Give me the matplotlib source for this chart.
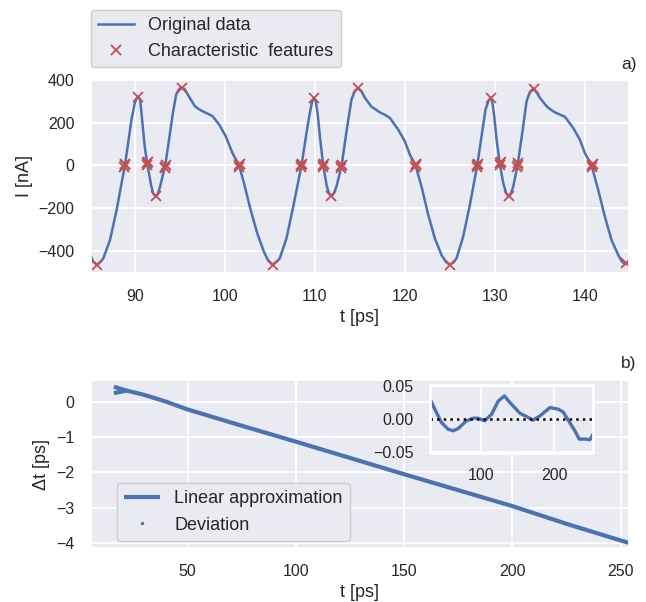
import matplotlib
matplotlib.use("Agg")
import matplotlib.pyplot as plt
from matplotlib.lines import Line2D

# ---------------- data ----------------
# panel a) original waveform
t_orig = [85.1, 85.4, 85.8, 86.2, 86.5, 87.24, 87.98, 88.53, 88.9, 89.26, 89.63, 90.0, 90.2, 90.4,
          90.6, 90.74, 91.1, 91.4, 91.84, 92.05, 92.32, 92.55, 92.76, 93.38, 93.86, 94.23, 94.6,
          94.95, 95.26, 95.55, 95.88, 96.62, 97.0, 97.54, 98.09, 98.64, 99.38, 100.1, 100.85,
          101.58, 102.13, 102.87, 103.6, 104.34, 104.8, 105.3, 105.75, 106.1,
          106.85, 107.6, 108.52, 109.07, 109.44, 109.7, 109.93, 110.1, 110.3, 110.56, 110.93, 111.3,
          111.55, 111.85, 112.1, 112.4, 112.96, 113.52, 114.07, 114.45, 114.81, 115.15, 115.56,
          116.3, 116.8, 117.22, 117.8, 118.33, 119.26, 120.0, 120.56, 121.19, 121.85, 122.6,
          123.33, 124.07, 124.55, 125.0, 125.4, 125.74,
          126.48, 127.22, 128.04, 128.52, 128.96, 129.3, 129.56, 129.75, 129.93, 130.19, 130.56,
          130.93, 131.25, 131.56, 131.8, 132.04, 132.52, 133.04, 133.52, 133.9, 134.26, 134.6,
          135.0, 135.74, 136.2, 136.67, 137.2, 137.78, 138.7, 139.44, 140.0, 140.74, 141.48,
          142.22, 142.96, 143.7, 144.1, 144.5, 144.9]
I_orig = [-425, -452, -466, -452, -436, -350, -209, -83, 0, 105, 215, 293, 315, 322,
          305, 246, 89, 3, -99, -132, -146, -134, -107, 0, 137, 246, 333,
          360, 367, 357, 333, 281, 267, 254, 243, 231, 191, 137, 58,
          0, -83, -209, -318, -405, -445, -466, -452, -436,
          -342, -193, 0, 152, 246, 300, 317, 300, 246, 137, 0, -91,
          -130, -143, -132, -99, -5, 160, 309, 350, 361, 350, 317,
          275, 261, 249, 237, 223, 168, 113, 50, 0, -99, -232,
          -342, -420, -452, -466, -455, -436,
          -334, -185, 0, 137, 262, 305, 318, 290, 231, 121, 3,
          -83, -130, -146, -130, -99, 0, 152, 301, 345, 360, 345,
          317, 278, 262, 249, 239, 228, 176, 121, 58, 0, -115,
          -240, -350, -420, -450, -463, -455]

# characteristic features (extrema and zero crossings)
feat_t = [85.8, 88.85, 88.9, 88.95, 90.4, 91.35, 91.4, 91.45, 92.3, 93.35, 93.4, 93.45, 95.25,
          101.55, 101.6, 101.65, 105.3,
          108.45, 108.5, 108.55, 109.95, 110.9, 110.95, 111.0, 111.85, 112.9, 112.95, 113.0, 114.85,
          121.15, 121.2, 121.25, 125.0,
          128.0, 128.05, 128.1, 129.55, 130.55, 130.6, 130.65, 131.6, 132.5, 132.55, 132.6, 134.3,
          140.75, 140.8, 140.85, 144.6]
feat_I = [-465, -8, 0, 8, 320, 0, 10, 16, -145, -14, -6, 2, 365,
          -6, 0, 6, -465,
          -6, 0, 6, 318, -6, 0, 6, -143, -12, -4, 2, 362,
          -6, 0, 6, -465,
          -8, 0, 6, 317, 0, 10, 18, -145, -6, 2, 10, 360,
          -6, 0, 6, -460]

# panel b) time shift
t_lin = [16, 22, 30, 40, 50, 75, 100, 125, 150, 175, 200, 225, 250, 254]
dt_lin = [0.42, 0.31, 0.19, 0.0, -0.22, -0.68, -1.13, -1.59, -2.05, -2.5, -2.95, -3.45, -3.92, -3.99]
t_branch = [16, 22]
dt_branch = [0.24, 0.31]

# inset: deviation from linear approximation
t_dev = [30.5, 37, 46, 55, 62, 69, 80, 89.5, 96, 105, 114.5, 123.6, 132, 139.5, 153, 162, 171,
         180.5, 194, 205.5, 212, 221, 228, 234, 242, 248.6, 253]
dev = [0.03, 0.015, -0.005, -0.015, -0.0175, -0.014, -0.0025, 0.0015, 0.0015, -0.0025, 0.0075,
       0.0275, 0.035, 0.025, 0.009, 0.004, -0.0015, 0.005, 0.0175, 0.015, 0.011, -0.005, -0.0175,
       -0.03, -0.03, -0.031, -0.0225]

# ---------------- style ----------------
BLUE = "#4C72B0"
RED = "#C44E52"
BG = "#EAEAF2"
plt.rcParams.update({
    "font.family": ["Liberation Sans", "DejaVu Sans"],
    "axes.facecolor": BG,
    "axes.edgecolor": "white",
    "axes.linewidth": 1.25,
    "axes.grid": True,
    "axes.axisbelow": True,
    "grid.color": "white",
    "grid.linewidth": 1.3,
    "text.color": "#262626",
    "axes.labelcolor": "#262626",
    "xtick.color": "#262626",
    "ytick.color": "#262626",
    "xtick.major.size": 0,
    "ytick.major.size": 0,
    "xtick.labelsize": 11.5,
    "ytick.labelsize": 11.5,
    "axes.labelsize": 13,
    "legend.fontsize": 13,
})

fig = plt.figure(figsize=(6.46, 6.02), dpi=100)
W, H = 646, 602

def axrect(l, t, r, b):
    return [l / W, 1 - b / H, (r - l) / W, (b - t) / H]

XPAD, YPAD = 11.2, 11.8

# ---------------- panel a ----------------
ax1 = fig.add_axes(axrect(90.7, 79.3, 629, 273.3))
ax1.plot(t_orig, I_orig, color=BLUE, lw=1.8, label="Original data")
ax1.plot(feat_t, feat_I, "x", color=RED, ms=7, mew=1.3, label="Characteristic  features")
ax1.set_xlim(85.1, 144.9)
ax1.set_ylim(-506, 404)
ax1.set_xticks([90, 100, 110, 120, 130, 140])
ax1.set_yticks([-400, -200, 0, 200, 400])
ax1.set_xlabel("t [ps]", labelpad=4)
ax1.set_ylabel("I [nA]", labelpad=4)
ax1.tick_params(axis="x", pad=XPAD)
ax1.tick_params(axis="y", pad=YPAD)
ax1.legend(loc="lower left", bbox_to_anchor=(0.0, 1.063), borderaxespad=0,
           facecolor=BG, edgecolor="0.8", framealpha=1, fancybox=True)
ax1.text(1.0, 1.074, "a)", transform=ax1.transAxes, ha="center", va="center", fontsize=12.5)

# ---------------- panel b ----------------
ax2 = fig.add_axes(axrect(90.7, 380, 629, 548.3))
ax2.plot(t_lin, dt_lin, color=BLUE, lw=3.0, solid_capstyle="butt", label="Linear approximation")
ax2.plot(t_branch, dt_branch, color=BLUE, lw=3.0, solid_capstyle="butt")
ax2.set_xlim(5.3, 253.8)
ax2.set_ylim(-4.14, 0.61)
ax2.set_xticks([50, 100, 150, 200, 250])
ax2.set_yticks([-4, -3, -2, -1, 0])
ax2.set_xlabel("t [ps]", labelpad=4)
ax2.set_ylabel("Δt [ps]", labelpad=4)
ax2.tick_params(axis="x", pad=XPAD)
ax2.tick_params(axis="y", pad=YPAD)
dev_handle = Line2D([], [], color=BLUE, marker=".", ms=3, ls="none", label="Deviation")
h, l = ax2.get_legend_handles_labels()
ax2.legend(h + [dev_handle], l + ["Deviation"], loc="lower left",
           bbox_to_anchor=(0.048, 0.045), borderaxespad=0,
           facecolor=BG, edgecolor="0.8", framealpha=1, fancybox=True)
ax2.text(1.0, 1.099, "b)", transform=ax2.transAxes, ha="center", va="center", fontsize=12.5)

# ---------------- inset ----------------
ax3 = fig.add_axes(axrect(430, 385, 593.3, 452.7))
ax3.plot(t_dev, dev, color=BLUE, lw=2.4)
ax3.axhline(0, color="black", ls=":", lw=1.8)
ax3.set_xlim(30.4, 253.2)
ax3.set_ylim(-0.0505, 0.0515)
ax3.set_xticks([100, 200])
ax3.set_yticks([-0.05, 0.0, 0.05])
ax3.set_yticklabels(["−0.05", "0.00", "0.05"])
ax3.tick_params(axis="x", pad=XPAD)
ax3.tick_params(axis="y", pad=YPAD)
for s in ax3.spines.values():
    s.set_linewidth(2)

fig.savefig("out.png", dpi=100)
